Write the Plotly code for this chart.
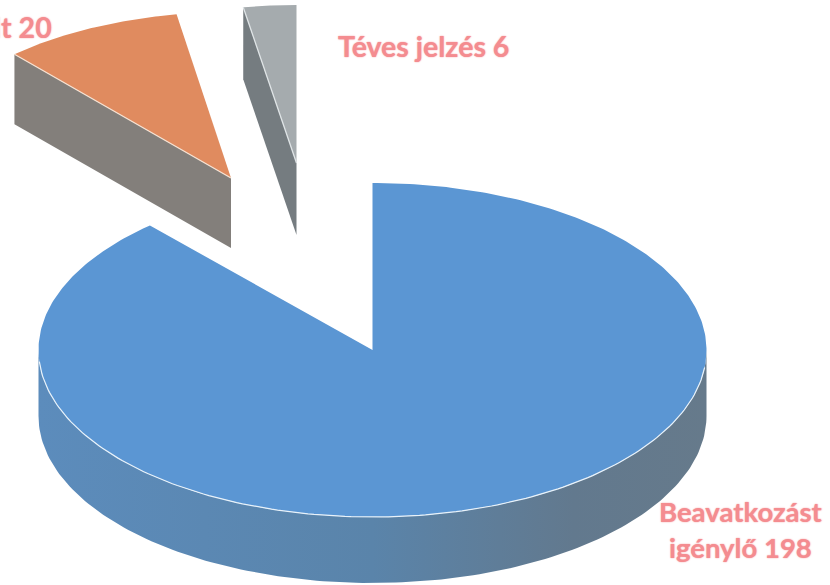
import numpy as np
import plotly.graph_objects as go

categories = ["Beavatkozást igénylő", "lt", "Téves jelzés"]
values = [198, 20, 6]
top_colors = ["#5b96d3", "#e08b5f", "#a5abae"]
side_colors = ["#5d87b0", "#837f7b", "#757c80"]
text_color = "#f48c90"

# pie geometry in the 830x585 frame: centre x, centre y, radii, depth
centres = [(372.5, 350), (231, 178), (296.5, 163)]
radii = [(334, 167), (325, 166), (318, 158)]
depths = [66, 70, 72]


def label_font(size):
    return dict(family="Lato, Carlito, sans-serif", size=size, color=text_color,
                weight="bold", shadow=f"0 0 1.5px {text_color}")


shares = np.array(values) / sum(values) * 360
ends = np.cumsum(shares)
starts = ends - shares


def pt(i, deg):
    a = np.radians(deg)
    cx, cy = centres[i]
    rx, ry = radii[i]
    return cx + rx * np.sin(a), cy - ry * np.cos(a)


def arc(i, a0, a1, n=160):
    return pt(i, np.linspace(a0, a1, n))


fig = go.Figure()


def poly(x, y, color=None, grad=None):
    kw = dict(fillgradient=grad) if grad else dict(fillcolor=color)
    fig.add_trace(go.Scatter(x=list(x), y=list(y), mode="lines", fill="toself",
                             line=dict(width=0, color="rgba(0,0,0,0)"),
                             hoverinfo="skip", showlegend=False, **kw))


def stroke(x, y, color, width):
    fig.add_trace(go.Scatter(x=list(x), y=list(y), mode="lines",
                             line=dict(color=color, width=width),
                             hoverinfo="skip", showlegend=False))


# main slice: rim then top
rx_, ry_ = arc(0, 90, 270)
d = depths[0]
poly(np.r_[rx_, rx_[::-1]], np.r_[ry_, ry_[::-1] + d],
     grad=dict(type="horizontal",
               colorscale=[[0, "#5c8cbc"], [0.5, "#5a84aa"], [0.8, "#62798e"], [1, "#667a8b"]]))
tx, ty = arc(0, starts[0], ends[0], 400)
cx0, cy0 = centres[0]
poly(np.r_[cx0, tx, cx0], np.r_[cy0, ty, cy0], top_colors[0])
wx, wy = arc(0, 96, 266)
stroke(wx, wy, "#e8f2fa", 1.2)

# exploded slices: cut face in front, then top
for i, sliver_edge in [(1, "#f6e2d2"), (2, "#dfe4e6")]:
    cx, cy = centres[i]
    d = depths[i]
    ex, ey = pt(i, starts[i])
    poly([ex, cx, cx, ex, ex], [ey, cy, cy + d, ey + d, ey], side_colors[i])
    ax, ay = arc(i, starts[i], ends[i], 60)
    poly(np.r_[cx, ax, cx], np.r_[cy, ay, cy], top_colors[i])
    stroke([ex, cx], [ey, cy], sliver_edge, 1.3)

fig.add_annotation(x=54, y=27, xanchor="right", yanchor="middle", text=f"lt {values[1]}",
                   showarrow=False, font=label_font(28.5))
fig.add_annotation(x=423, y=46, xanchor="center", yanchor="middle",
                   text=f"{categories[2]} {values[2]}", showarrow=False, font=label_font(28.5))
fig.add_annotation(x=741, y=529, xanchor="center", yanchor="middle", align="center",
                   text=f"Beavatkozást<br>igénylő {values[0]}", showarrow=False,
                   font=label_font(27.5))

fig.update_layout(width=830, height=585, margin=dict(l=0, r=0, t=0, b=0),
                  paper_bgcolor="white", plot_bgcolor="white", showlegend=False,
                  xaxis=dict(range=[0, 830], visible=False, fixedrange=True),
                  yaxis=dict(range=[585, 0], visible=False, fixedrange=True))
fig.write_html("out.html", config=dict(displayModeBar=False),
               post_script="document.body.style.margin='0';document.documentElement.style.overflow='hidden';")
